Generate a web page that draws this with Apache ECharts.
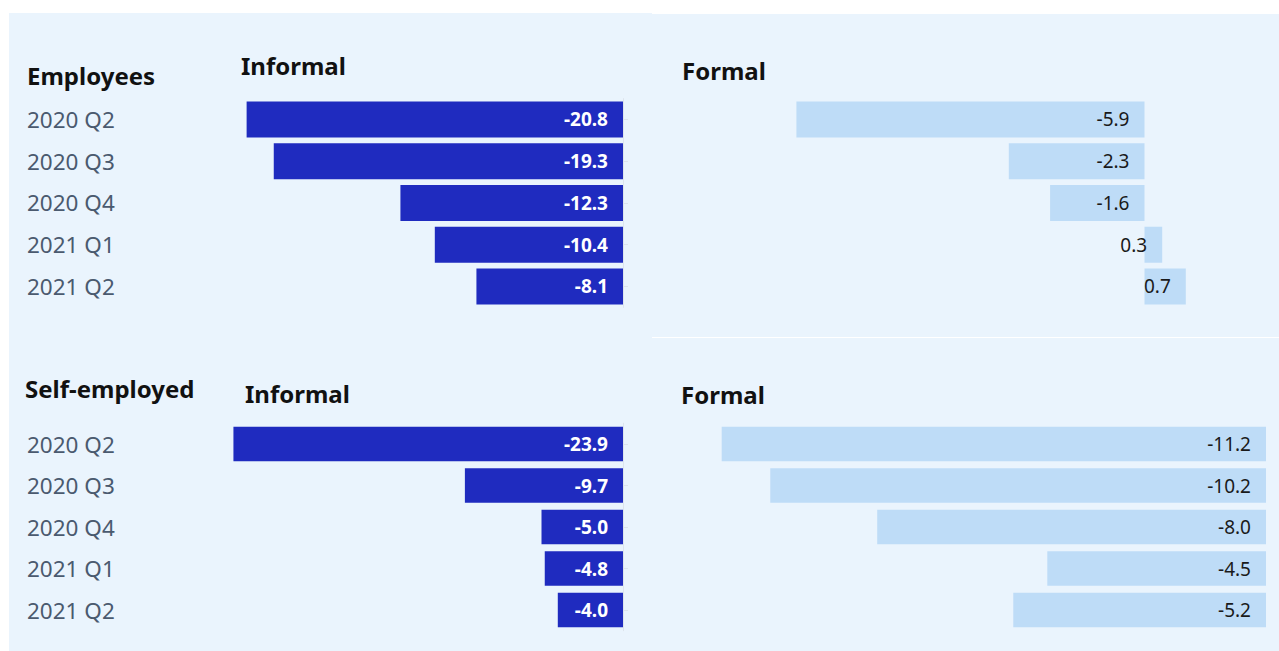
<!DOCTYPE html>
<html>
<head>
<meta charset="utf-8">
<title>Employment change, informal vs formal</title>
<script src="https://cdn.jsdelivr.net/npm/echarts@6/dist/echarts.min.js"></script>
<style>
  html, body { margin: 0; padding: 0; background: #ffffff; }
  #chart { width: 1279px; height: 651px; }
</style>
</head>
<body>
<div id="chart"></div>
<script>
// Quarters shown on each panel's category axis
const quarters = ['2020 Q2', '2020 Q3', '2020 Q4', '2021 Q1', '2021 Q2'];

// Employees: change by quarter
const employeesInformal = [-20.8, -19.3, -12.3, -10.4, -8.1];
const employeesFormal = [-5.9, -2.3, -1.6, 0.3, 0.7];

// Self-employed: change by quarter
const selfInformal = [-23.9, -9.7, -5.0, -4.8, -4.0];
const selfFormal = [-11.2, -10.2, -8.0, -4.5, -5.2];

const FONT = 'Noto Sans';
const DARK = '#1f2bbf';
const LIGHT = '#bedcf7';
const PANEL = '#eaf4fd';

const chart = echarts.init(document.getElementById('chart'), null, { renderer: 'svg' });

const grids = [
  { left: 243, width: 380, top: 98.6, height: 208.75 },    // employees, informal
  { left: 790.5, width: 413, top: 98.6, height: 208.75 },  // employees, formal
  { left: 231.8, width: 391.2, top: 423.25, height: 207.5 },// self-employed, informal
  { left: 682.8, width: 583.2, top: 423.25, height: 207.5 } // self-employed, formal
];

const xRanges = [[-21, 0], [-6, 1], [-24, 0], [-12, 0]];

const xAxes = xRanges.map((r, i) => ({
  type: 'value', gridIndex: i, min: r[0], max: r[1], show: false
}));

const yAxes = [];
grids.forEach((g, i) => {
  const informal = i % 2 === 0;
  yAxes.push({
    type: 'category', gridIndex: i, data: quarters, inverse: true,
    position: 'left',
    axisLine: { show: false }, axisTick: { show: false },
    axisLabel: informal ? {
      show: true, align: 'left', margin: g.left - 27,
      color: '#4a5a6f', fontFamily: FONT, fontSize: 22.5
    } : { show: false }
  });
});
// thin zero line with ticks on the right edge of the informal panels
[0, 2].forEach(i => {
  yAxes.push({
    type: 'category', gridIndex: i, data: quarters, inverse: true,
    position: 'right',
    axisLine: { show: true, lineStyle: { color: '#dde4ec', width: 1 } },
    axisTick: { show: true, alignWithLabel: true, length: 5, lineStyle: { color: '#dde4ec' } },
    axisLabel: { show: false }
  });
});

function barSeries(data, idx, informal, width) {
  return {
    type: 'bar', data: data, xAxisIndex: idx, yAxisIndex: idx,
    barWidth: width,
    itemStyle: { color: informal ? DARK : LIGHT },
    label: {
      show: true, position: 'insideRight', distance: 15,
      formatter: p => p.value.toFixed(1),
      color: informal ? '#ffffff' : '#1a1a1a',
      fontWeight: informal ? 'bold' : 'normal',
      fontFamily: FONT, fontSize: 19
    },
    emphasis: { disabled: true },
    animation: false
  };
}

function title(text, x, y) {
  return {
    type: 'text', z: 10, x: x, y: y,
    style: { text: text, fill: '#111111', font: 'bold 24px "Noto Sans"', align: 'left', verticalAlign: 'middle' }
  };
}

chart.setOption({
  animation: false,
  textStyle: { fontFamily: FONT },
  grid: grids,
  xAxis: xAxes,
  yAxis: yAxes,
  graphic: [
    { type: 'rect', z: -1, shape: { x: 9, y: 13, width: 643, height: 332 }, style: { fill: PANEL } },
    { type: 'rect', z: -1, shape: { x: 652, y: 14, width: 627, height: 323 }, style: { fill: PANEL } },
    { type: 'rect', z: -1, shape: { x: 9, y: 345, width: 643, height: 306 }, style: { fill: PANEL } },
    { type: 'rect', z: -1, shape: { x: 652, y: 338, width: 627, height: 313 }, style: { fill: PANEL } },
    title('Employees', 27, 75),
    title('Informal', 241, 65.5),
    title('Formal', 682, 70.5),
    title('Self-employed', 25, 388),
    title('Informal', 245, 393.5),
    title('Formal', 681, 394.5)
  ],
  series: [
    barSeries(employeesInformal, 0, true, 36),
    barSeries(employeesFormal, 1, false, 36),
    barSeries(selfInformal, 2, true, 34.5),
    barSeries(selfFormal, 3, false, 34.5)
  ]
});
</script>
</body>
</html>
